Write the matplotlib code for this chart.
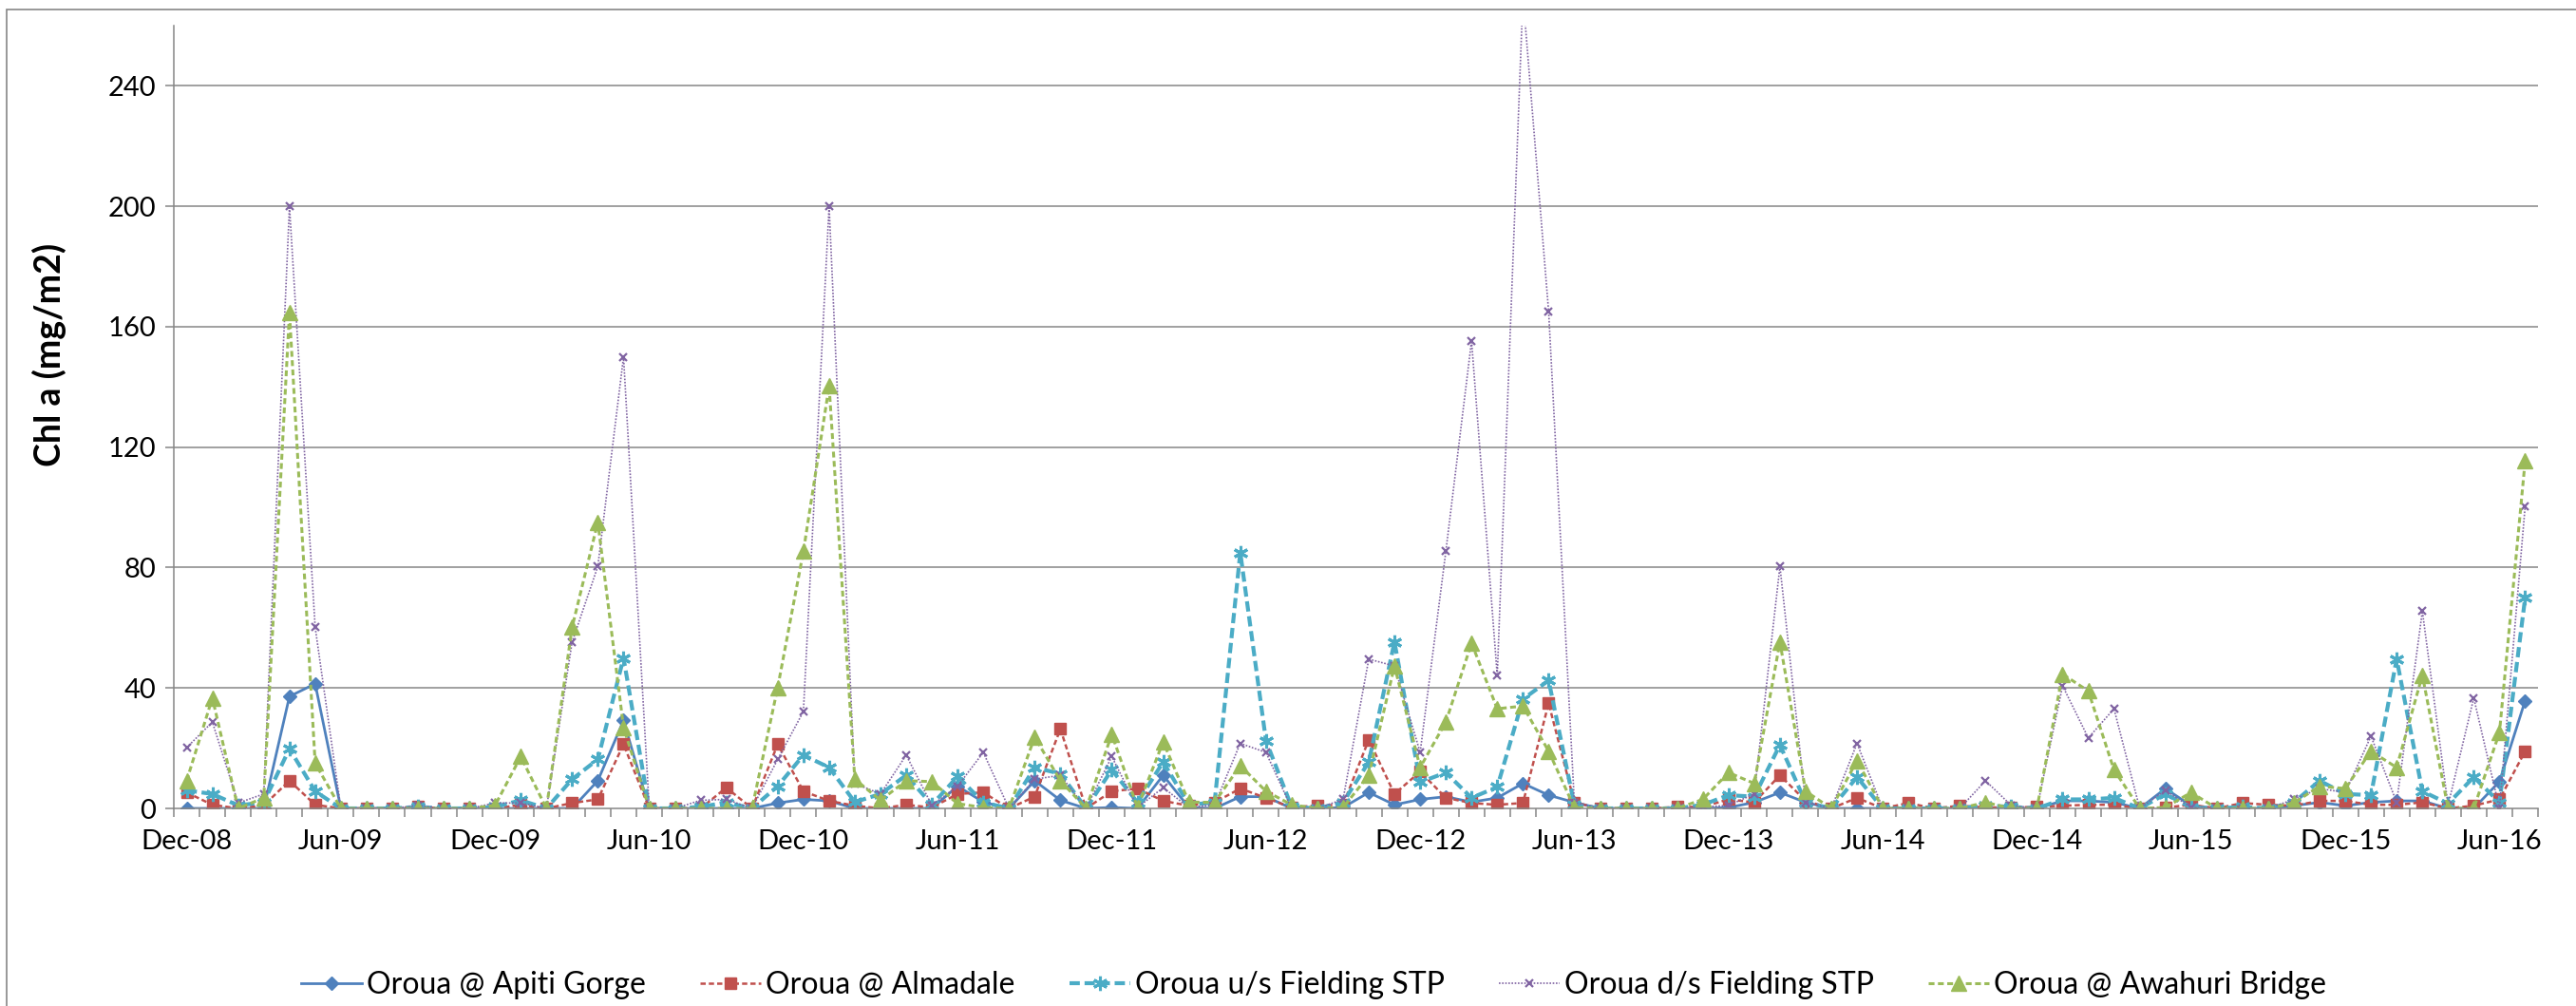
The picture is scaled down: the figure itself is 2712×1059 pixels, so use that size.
import matplotlib
matplotlib.use("Agg")
import matplotlib.pyplot as plt
from matplotlib.patches import Rectangle
import numpy as np

plt.rcParams['font.family'] = ['Lato', 'DejaVu Sans']

# monthly samples, Dec-08 .. Jul-16
months = np.arange(92)
tick_labels = ['Dec-08', 'Jun-09', 'Dec-09', 'Jun-10', 'Dec-10', 'Jun-11', 'Dec-11', 'Jun-12',
               'Dec-12', 'Jun-13', 'Dec-13', 'Jun-14', 'Dec-14', 'Jun-15', 'Dec-15', 'Jun-16']

apiti_gorge = [0, 0, 0, 0, 37.2, 41.4, 0, 0, 0, 0, 0, 0, 0, 0, 0, 0, 9.2, 29.2, 0, 0,
               0, 0, 0, 1.8, 3, 2.5, 0, 0, 0, 0, 7.4, 2.1, 0, 9.2, 2.7, 0, 0.3, 0, 11, 0.3,
               0, 3.9, 3.9, 0, 0, 0.3, 5.3, 1.2, 3, 3.9, 2.1, 3.5, 8.3, 4.4, 2, 0, 0, 0, 0, 0,
               0.3, 2, 5.3, 2, 0, 0, 0, 0, 0, 0, 0, 0, 0, 2.5, 2.5, 2, 0, 6.6, 0.9, 0,
               0, 0, 0.9, 2, 0.9, 2, 2.5, 2.5, 0, 0, 8.9, 35.8]
almadale = [5.3, 1.2, 0, 1, 9.2, 1.2, 0, 0, 0, 0.5, 0, 0, 0, 1.2, 0, 1.8, 3, 21.3, 0, 0,
            0, 6.9, 0, 21.3, 5.7, 2.5, 0.9, 0, 1.2, 0.3, 4.8, 5.3, 0, 3.9, 26.4, 0, 5.7, 6.6, 2.5, 0.9,
            2, 6.6, 3.5, 0.3, 1, 1.2, 22.8, 4.8, 12.2, 3.5, 1.8, 1.2, 1.8, 34.9, 2, 0, 0, 0, 0.5, 0.5,
            3, 2, 11, 2.5, 0, 3.5, 0, 1.8, 0, 0.9, 0.3, 0.3, 0.5, 0.9, 1.2, 1.2, 0, 0.3, 1.2, 0,
            1.8, 1.2, 0.9, 2.5, 2.5, 1.2, 1.2, 2, 0, 0.9, 3, 19]
us_fielding = [6, 4.8, 1, 2, 19.8, 5.7, 0, 0, 0, 0.5, 0, 0, 0.5, 2.7, 0, 9.7, 16.3, 50, 0, 0,
               0.5, 2, 0, 7.4, 17.7, 13.6, 2.1, 4.8, 11, 1.2, 10.6, 2, 0, 13.6, 11.5, 0, 12.8, 2, 15.4, 1.2,
               2, 85, 22.5, 0.5, 0, 2, 15.4, 55.3, 8.7, 11.9, 3.5, 7.1, 36.3, 42.5, 1.2, 0, 0, 0, 0, 1.2,
               4.4, 3.9, 21.1, 2, 0, 10.4, 0, 0, 0, 0, 1, 0.5, 0, 3, 3, 3.5, 0, 4.8, 0.3, 0,
               0.5, 0, 2, 9.2, 4.8, 4.4, 49.6, 5.7, 1.6, 10.4, 2, 70]
ds_fielding = [20.2, 28.7, 1.8, 4.8, 200, 60.2, 0, 0, 0, 1, 0, 0, 1.8, 1.8, 0, 55.3, 80.4, 150, 0, 0,
               2.7, 3, 0, 16.3, 32.2, 200, 8.3, 4.8, 17.7, 1, 7.4, 18.6, 0, 9.7, 11, 0, 17.2, 0.3, 6.9, 0.3,
               1.2, 21.6, 18.6, 0, 0, 3, 49.6, 47.3, 18.6, 85.4, 155.3, 44.1, 270, 165, 2, 0, 0, 0, 0, 0.5,
               1, 4.8, 80.4, 2, 0, 21.6, 0, 0, 0, 0, 9.2, 1, 0, 40.7, 23.4, 33.1, 0, 6, 0.3, 0,
               0, 0, 3, 6.6, 5.3, 24, 2, 65.5, 1, 36.7, 0, 100.4]
awahuri = [9.2, 36.7, 0, 3.5, 164.7, 15, 0, 0, 0, 0, 0, 0, 1, 17.2, 0, 60.2, 95.1, 26.9, 0, 0,
           0, 0, 0, 40.2, 85.4, 140.3, 9.7, 2.7, 9.2, 8.9, 1.6, 0.3, 0, 23.7, 9.2, 0, 24.6, 0.3, 22.1, 2.1,
           2, 14.2, 5.7, 1.2, 0, 0.3, 11, 47.3, 13.6, 28.7, 54.9, 33.1, 34, 19, 0.3, 0, 0, 0, 0, 3,
           11.9, 8.3, 55.3, 5.7, 0, 15.9, 0, 0, 0, 0, 2, 0, 0, 44.6, 39, 12.8, 0, 0.3, 5.3, 0,
           0, 0, 1.8, 7.4, 6.6, 19, 13.6, 44.3, 0, 0, 25.2, 115.5]

W, H = 2712, 1059
fig = plt.figure(figsize=(W / 100, H / 100), dpi=100)
ax = fig.add_axes([183 / W, (H - 851) / H, (2672 - 183) / W, (851 - 27) / H])

grey = '#868686'

ax.plot(months, apiti_gorge, color='#4F81BD', lw=2.0, ls='-',
        marker='D', ms=7, label='Oroua @ Apiti Gorge')
ax.plot(months, almadale, color='#C0504D', lw=1.8, dashes=(2.2, 1.3),
        marker='s', ms=9, label='Oroua @ Almadale')
ax.plot(months, us_fielding, color='#4BACC6', lw=3.0, dashes=(2.6, 1.2),
        marker=(6, 2, 0), ms=11, mew=2.2, label='Oroua u/s Fielding STP')
ax.plot(months, ds_fielding, color='#8064A2', lw=1.2, dashes=(1, 1),
        marker='x', ms=6, mew=1.6, label='Oroua d/s Fielding STP')
ax.plot(months, awahuri, color='#9BBB59', lw=2.2, dashes=(2, 1.2),
        marker='^', ms=11, label='Oroua @ Awahuri Bridge')

ax.set_xlim(-0.5, 91.5)
ax.set_ylim(0, 260)

# y axis
ax.set_yticks(np.arange(0, 241, 40))
ax.tick_params(axis='y', direction='out', length=6.5, width=1.1, color=grey,
               labelsize=21, pad=7)
for v in range(40, 241, 40):
    ax.axhline(v, color=grey, lw=1.1, zorder=0)

# x axis: ticks between months, labels every six months
ax.set_xticks(np.arange(-0.5, 92, 1))
ax.set_xticklabels([])
ax.set_xticks(months[::6], minor=True)
ax.set_xticklabels(tick_labels, minor=True)
ax.tick_params(axis='x', which='major', direction='out', length=6.5, width=1.1, color=grey)
ax.tick_params(axis='x', which='minor', length=0, labelsize=21, pad=16)

for s in ['top', 'right']:
    ax.spines[s].set_visible(False)
for s in ['left', 'bottom']:
    ax.spines[s].set_color(grey)
    ax.spines[s].set_linewidth(1.1)

ax.set_ylabel('Chl a (mg/m2)', fontsize=27, fontweight='bold', va='center')
ax.yaxis.set_label_coords(-0.0526, 0.58)

fig.legend(loc='center', bbox_to_anchor=(0.51, 0.021), ncol=5, frameon=False,
           fontsize=23, handlelength=2.0, handletextpad=0.15, columnspacing=1.8,
           numpoints=1)

# chart area border
fig.patches.append(Rectangle((7 / W, -0.05), 1.2, (H - 9.5) / H + 0.05,
                             transform=fig.transFigure, fill=False,
                             edgecolor=grey, lw=1.2))

fig.savefig('out.png', dpi=100)
